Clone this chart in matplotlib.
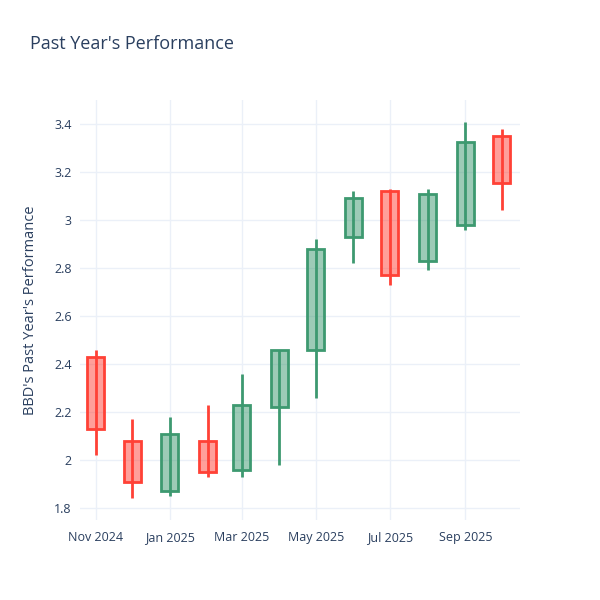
import datetime as dt
import matplotlib
matplotlib.use('Agg')
import matplotlib.pyplot as plt
import matplotlib.dates as mdates
from matplotlib.ticker import FuncFormatter

# monthly OHLC
months = ['2024-11-01', '2024-12-01', '2025-01-01', '2025-02-01', '2025-03-01', '2025-04-01',
          '2025-05-01', '2025-06-01', '2025-07-01', '2025-08-01', '2025-09-01', '2025-10-01']
opens  = [2.43, 2.08, 1.87, 2.08, 1.96, 2.22, 2.46, 2.93, 3.12, 2.83, 2.98, 3.35]
highs  = [2.46, 2.17, 2.18, 2.23, 2.36, 2.46, 2.92, 3.12, 3.13, 3.13, 3.41, 3.38]
lows   = [2.02, 1.84, 1.85, 1.93, 1.93, 1.98, 2.26, 2.82, 2.73, 2.79, 2.96, 3.04]
closes = [2.13, 1.91, 2.11, 1.95, 2.23, 2.46, 2.88, 3.09, 2.77, 3.11, 3.325, 3.155]

xticks = ['2024-11-01', '2025-01-01', '2025-03-01', '2025-05-01', '2025-07-01', '2025-09-01']
yticks = [1.8, 2.0, 2.2, 2.4, 2.6, 2.8, 3.0, 3.2, 3.4]

UP = '#3D9970'
DOWN = '#FF4136'
TXT = '#2a3f5f'
GRID = '#EBF0F8'

plt.rcParams['font.family'] = ['Open Sans', 'DejaVu Sans']

fig = plt.figure(figsize=(6, 6), dpi=100)
ax = fig.add_axes([80/600, 80/600, 440/600, 420/600])

x = [mdates.date2num(dt.date.fromisoformat(m)) for m in months]
width = 14

for xi, o, h, l, c in zip(x, opens, highs, lows, closes):
    col = UP if c >= o else DOWN
    ax.vlines(xi, l, h, color=col, lw=2, zorder=2)
    ax.bar(xi, abs(c - o), bottom=min(o, c), width=width,
           facecolor=col, alpha=0.5, edgecolor='none', zorder=3)
    ax.bar(xi, abs(c - o), bottom=min(o, c), width=width,
           facecolor='none', edgecolor=col, lw=2, zorder=4)

ax.set_xlim(mdates.date2num(dt.date(2024, 10, 19)), mdates.date2num(dt.date(2025, 10, 16)))
ax.set_ylim(1.75, 3.5)

ax.set_xticks([mdates.date2num(dt.date.fromisoformat(t)) for t in xticks])
ax.xaxis.set_major_formatter(mdates.DateFormatter('%b %Y'))
ax.set_yticks(yticks)
ax.yaxis.set_major_formatter(FuncFormatter(lambda v, p: f'{v:g}'))

ax.tick_params(length=0, labelsize=9, colors=TXT)
ax.tick_params(axis='x', pad=8)
ax.tick_params(axis='y', pad=6)
ax.grid(True, color=GRID, lw=1, zorder=0)
ax.set_axisbelow(True)
for s in ax.spines.values():
    s.set_visible(False)

fig.text(30/600, 1 - 44/600, "Past Year's Performance", fontsize=13, color=TXT, va='center')
fig.text(31/600, 1 - 310/600, "BBD's Past Year's Performance", fontsize=10.5, color=TXT,
         rotation=90, va='center', ha='center')

fig.savefig('out.png', dpi=100, facecolor='white')
